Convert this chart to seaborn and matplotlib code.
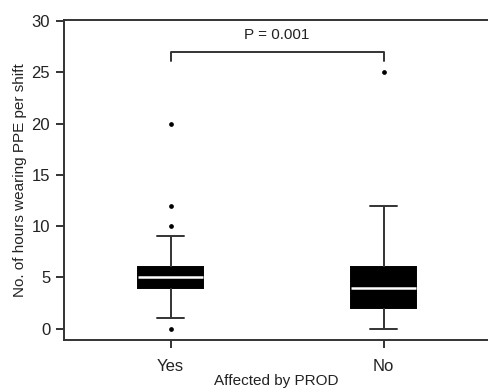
import pandas as pd
import matplotlib
import matplotlib.pyplot as plt
import seaborn as sns

matplotlib.use('Agg')

# Hours wearing PPE per shift, by group (values chosen to reproduce the box summaries)
hours_yes = [0, 1, 3, 4, 4, 4, 4, 4, 5, 5, 5, 5, 5, 5, 6, 6, 6, 6, 6, 7, 8, 9, 10, 12, 20]
hours_no = [0, 1, 2, 2, 3, 4, 4, 5, 6, 6, 8, 12, 25]
groups = ['Yes', 'No']
p_label = 'P = 0.001'
y_ticks = [0, 5, 10, 15, 20, 25, 30]


def main():
    data = pd.DataFrame({
        'group': ['Yes'] * len(hours_yes) + ['No'] * len(hours_no),
        'hours': hours_yes + hours_no,
    })

    sns.set_style('ticks')
    plt.rcParams['font.family'] = ['Liberation Sans', 'DejaVu Sans']
    plt.rcParams['font.size'] = 11

    fig = plt.figure(figsize=(4.89, 3.92), dpi=100)
    ax = fig.add_axes([0.131, 0.133, 0.869, 0.816])

    sns.boxplot(data=data, x='group', y='hours', order=groups, ax=ax,
                width=0.305, color='black', linecolor='#333333', linewidth=1.4,
                whis=1.5, capwidths=0.13,
                boxprops=dict(facecolor='black', edgecolor='black'),
                medianprops=dict(color='white', linewidth=1.8),
                flierprops=dict(marker='o', markersize=2.4, markerfacecolor='black',
                                markeredgecolor='black'))

    # significance bracket
    ax.plot([0, 0, 1, 1], [26.1, 27, 27, 26.1], color='#333333', lw=1.4)
    ax.text(0.5, 28.0, p_label, ha='center', va='bottom', fontsize=11, color='#222222')

    ax.set_xlim(-0.5, 1.495)
    ax.set_ylim(-1.1, 30.1)
    ax.set_yticks(y_ticks)
    ax.set_xlabel('Affected by PROD', fontsize=11, color='#222222', labelpad=0)
    ax.set_ylabel('No. of hours wearing PPE per shift', fontsize=11, color='#222222', labelpad=3)
    ax.tick_params(axis='both', length=6, width=1.4, color='#333333', labelcolor='#222222',
                   labelsize=12)
    ax.tick_params(axis='x', pad=8)
    ax.tick_params(axis='y', pad=4)
    for side in ['left', 'top', 'bottom']:
        ax.spines[side].set_color('#333333')
        ax.spines[side].set_linewidth(1.4)
    ax.spines['right'].set_visible(False)

    plt.savefig('out.png', dpi=100)
    plt.close()


if __name__ == "__main__":
    main()
